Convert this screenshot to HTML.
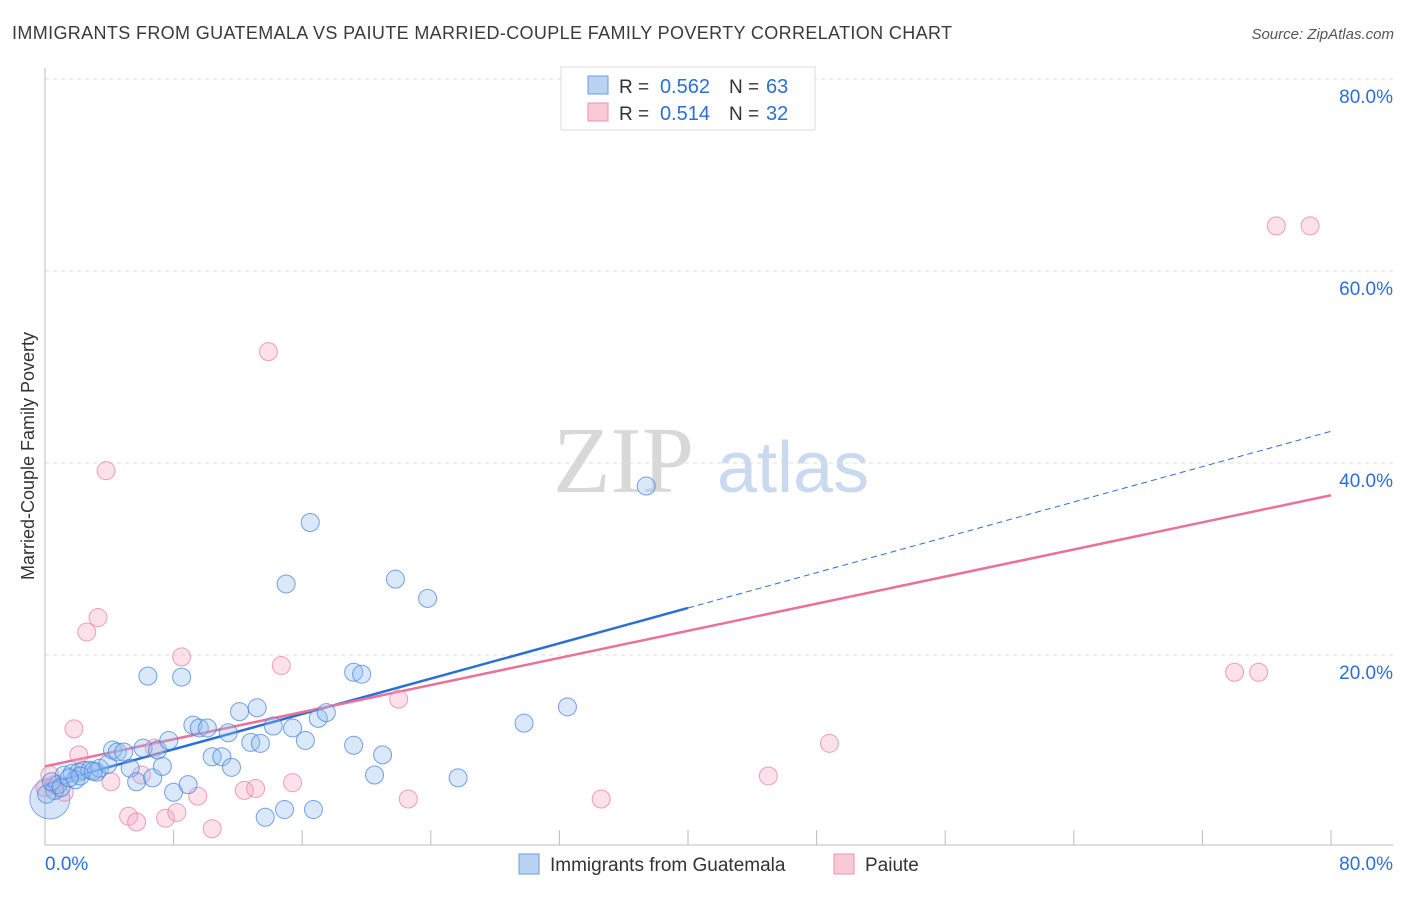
<!DOCTYPE html>
<html><head><meta charset="utf-8"><style>
body{margin:0;background:#fff;font-family:"Liberation Sans",sans-serif;}
svg text{font-family:"Liberation Sans",sans-serif;}
</style></head><body>
<svg id="chart" width="1406" height="892" xmlns="http://www.w3.org/2000/svg">
<text x="12" y="39" font-size="18" fill="#3a3a3a" textLength="940" lengthAdjust="spacing">IMMIGRANTS FROM GUATEMALA VS PAIUTE MARRIED-COUPLE FAMILY POVERTY CORRELATION CHART</text>
<text x="1394" y="39" font-size="15" fill="#555" font-style="italic" text-anchor="end">Source: ZipAtlas.com</text>
<g>
<text x="553" y="492" font-size="94" fill="#d8d8d8" font-family="Liberation Serif" style="font-family:'Liberation Serif',serif">ZIP</text>
<text x="717" y="492" font-size="72" fill="#c8d9f0">atlas</text>
</g>
<g id="grid"></g>
<g id="axes"></g>
<g id="lines"></g>
<g id="pts"></g>
<text transform="translate(34,456) rotate(-90)" font-size="18" fill="#333" text-anchor="middle">Married-Couple Family Poverty</text>
<g>
<rect x="561" y="67" width="254" height="63" fill="#fff" stroke="#ddd"/>
<rect x="588" y="76" width="20" height="18" fill="#b9d3f3" stroke="#6a9be0"/>
<rect x="588" y="103" width="20" height="18" fill="#f9c9d7" stroke="#ec92ae"/>
<text x="619" y="93" font-size="19" fill="#333">R =</text>
<text x="710" y="93" font-size="20" fill="#2b6fd6" text-anchor="end">0.562</text>
<text x="729" y="93" font-size="19" fill="#333">N =</text>
<text x="766" y="93" font-size="20" fill="#2b6fd6">63</text>
<text x="619" y="120" font-size="19" fill="#333">R =</text>
<text x="710" y="120" font-size="20" fill="#2b6fd6" text-anchor="end">0.514</text>
<text x="729" y="120" font-size="19" fill="#333">N =</text>
<text x="766" y="120" font-size="20" fill="#2b6fd6">32</text>
</g>
<g>
<rect x="519" y="854" width="20" height="20" fill="#b9d3f3" stroke="#6a9be0"/>
<text x="550" y="871" font-size="19" fill="#333">Immigrants from Guatemala</text>
<rect x="834" y="854" width="20" height="20" fill="#f9c9d7" stroke="#ec92ae"/>
<text x="865" y="871" font-size="19" fill="#333">Paiute</text>
</g>
</svg>
<script>
const yTicks=[20,40,60,80];
const yTickLabels=["20.0%","40.0%","60.0%","80.0%"];
const xTickLabels=["0.0%","80.0%"];
const blueX=[0.6,0.8,1.2,1.7,2.1,2.4,2.8,3.2,3.4,3.9,4.2,4.5,4.9,5.3,5.7,6.1,6.4,6.7,7.0,7.3,7.7,8.0,8.5,8.9,9.2,9.6,10.1,10.4,11.0,11.4,11.6,12.1,12.8,13.2,13.4,13.7,14.2,14.9,15.0,15.4,16.2,16.5,16.7,17.0,17.5,19.2,19.7,19.2,20.5,21.0,21.8,23.8,25.7,29.8,32.5,37.4,0.1,0.4,1.0,1.9,2.2,3.0,1.5];
const blueY=[5.9,6.5,7.5,7.7,7.8,8.0,8.0,7.8,8.2,8.6,10.1,9.9,9.9,8.2,6.8,10.3,17.8,7.2,10.1,8.4,11.1,5.7,17.7,6.5,12.7,12.4,12.4,9.4,9.4,11.9,8.3,14.1,10.9,14.5,10.8,3.1,12.6,3.9,27.4,12.4,11.1,33.8,3.9,13.4,14.0,18.2,18.0,10.6,7.5,9.6,27.9,25.9,7.2,12.9,14.6,37.6,5.5,6.8,6.2,7.0,7.4,7.9,7.2];
const pinkX=[0,0.3,0.6,1.2,1.8,2.1,2.6,3.3,3.8,4.1,5.2,5.7,6.0,6.8,7.5,8.2,8.5,9.5,10.4,12.4,13.1,13.9,14.7,15.4,22.0,22.6,34.6,45.0,48.8,74.0,75.5,76.6,78.7];
const pinkY=[6.2,7.5,6.5,5.7,12.3,9.6,22.4,23.9,39.2,6.8,3.2,2.6,7.5,10.3,3.0,3.6,19.8,5.3,1.9,5.9,6.1,51.6,18.9,6.7,15.4,5.0,5.0,7.4,10.8,18.2,18.2,64.7,64.7];
const blueFit=[6.5,0.46]; const blueSolidEnd=40;
const pinkFit=[8.4,0.353];
const X=v=>45+v*1286/80, Y=v=>847-v*9.6;
const NS="http://www.w3.org/2000/svg";
function mk(p,t,a){const e=document.createElementNS(NS,t);for(const k in a)e.setAttribute(k,a[k]);p.appendChild(e);return e;}
const grid=document.getElementById('grid'),axes=document.getElementById('axes');
yTicks.forEach((t,i)=>{
 const l=mk(grid,'line',{x1:45,x2:1393,y1:Y(t),y2:Y(t),stroke:'#ddd','stroke-dasharray':'4,4'});
 
 
 const tx=mk(axes,'text',{x:1393,y:Y(t)+24,'font-size':19,fill:'#2b6fd6','text-anchor':'end'});tx.textContent=yTickLabels[i];
 
 
});
mk(axes,'line',{x1:45,x2:45,y1:68,y2:845,stroke:'#bbb'});
mk(axes,'line',{x1:45,x2:1393,y1:845,y2:845,stroke:'#bbb'});
for(let i=1;i<=10;i++){const x=X(i*8);mk(axes,'line',{x1:x,x2:x,y1:830,y2:845,stroke:'#bbb'});}
const xl0=mk(axes,'text',{x:45,y:870,'font-size':19,fill:'#2b6fd6'});xl0.textContent=xTickLabels[0];


const xl1=mk(axes,'text',{x:1393,y:870,'font-size':19,fill:'#2b6fd6','text-anchor':'end'});xl1.textContent=xTickLabels[1];


const pts=document.getElementById('pts');
const big=mk(pts,'circle',{cx:X(0.3),cy:Y(5.0),r:20,fill:'rgba(120,165,230,0.3)',stroke:'rgba(60,120,220,0.6)'});


pinkX.forEach((v,i)=>{const c=mk(pts,'circle',{cx:X(v),cy:Y(pinkY[i]),r:9,fill:'rgba(245,170,195,0.35)',stroke:'rgba(232,120,158,0.7)'});
 
 });
blueX.forEach((v,i)=>{const c=mk(pts,'circle',{cx:X(v),cy:Y(blueY[i]),r:9,fill:'rgba(150,190,240,0.35)',stroke:'rgba(60,125,220,0.7)'});
 
 });
const lines=document.getElementById('lines');
const f=(fit,x)=>fit[0]+fit[1]*x;
let l1=mk(lines,'line',{x1:X(0),y1:Y(f(blueFit,0)),x2:X(blueSolidEnd),y2:Y(f(blueFit,blueSolidEnd)),stroke:'#2b6fd6','stroke-width':2.5});


let l2=mk(lines,'line',{x1:X(blueSolidEnd),y1:Y(f(blueFit,blueSolidEnd)),x2:X(80),y2:Y(f(blueFit,80)),stroke:'#2b6fd6','stroke-width':1,'stroke-dasharray':'6,4'});


let l3=mk(lines,'line',{x1:X(0),y1:Y(f(pinkFit,0)),x2:X(80),y2:Y(f(pinkFit,80)),stroke:'#e8729a','stroke-width':2.5});


</script>
</body></html>
